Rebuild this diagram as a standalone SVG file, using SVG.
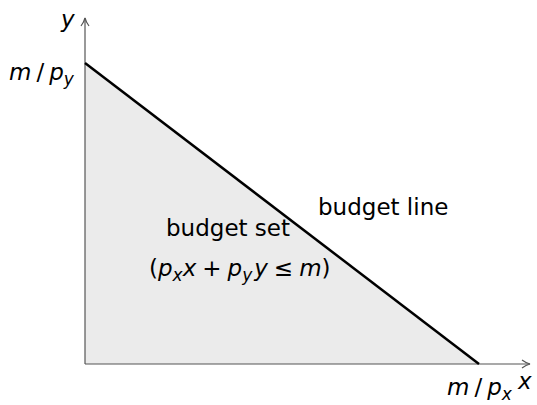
<svg xmlns="http://www.w3.org/2000/svg" width="537" height="405" viewBox="0 0 537 405">
<style>
.ax{stroke:#555;stroke-width:1.2;fill:none}
.t{font-family:"DejaVu Sans","Liberation Sans",sans-serif;font-size:23px;fill:#000}
.m{font-style:italic}
.s{font-size:17px}
</style>
<defs>
<marker id="ah" viewBox="0 0 10 10" refX="9" refY="5" markerWidth="10" markerHeight="10" markerUnits="userSpaceOnUse" orient="auto">
<path d="M1,1 Q5,4 9,5 Q5,6 1,9" fill="none" stroke="#555" stroke-width="1.2"/>
</marker>
</defs>
<g id="budget-set">
<polygon points="85,63 85,364 479,364" fill="#ebebeb"/>
</g>
<g id="connectors">
<line class="ax" x1="85" y1="364" x2="85" y2="18" marker-end="url(#ah)"/>
<line class="ax" x1="85" y1="364" x2="530" y2="364" marker-end="url(#ah)"/>
<line x1="85" y1="63" x2="479" y2="364" stroke="#000" stroke-width="2.5"/>
</g>
<g id="labels">
<text class="t m" x="61" y="27">y</text>
<text class="t m" x="518" y="389">x</text>
<text class="t m" x="9" y="80">m<tspan font-style="normal" dx="5">/</tspan><tspan dx="5">p</tspan><tspan class="s" dy="5">y</tspan></text>
<text class="t m" x="447" y="395">m<tspan font-style="normal" dx="5">/</tspan><tspan dx="5">p</tspan><tspan class="s" dy="5">x</tspan></text>
<text class="t" x="318" y="215">budget line</text>
<text class="t" x="166" y="236">budget set</text>
<text class="t" x="149" y="276">(<tspan class="m">p</tspan><tspan class="m s" dy="5">x</tspan><tspan class="m" dy="-5">x</tspan><tspan dx="6">+</tspan><tspan class="m" dx="6">p</tspan><tspan class="m s" dy="5">y</tspan><tspan class="m" dy="-5" dx="2">y</tspan><tspan dx="6">≤</tspan><tspan class="m" dx="6">m</tspan>)</text>
</g>
</svg>
